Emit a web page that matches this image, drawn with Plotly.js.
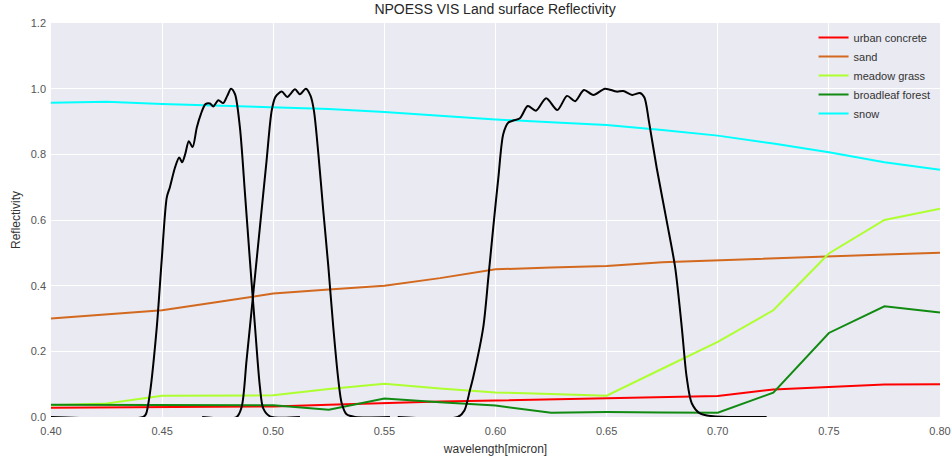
<!DOCTYPE html>
<html>
<head>
<meta charset="utf-8">
<script src="https://cdn.plot.ly/plotly-3.0.1.min.js"></script>
<style>
  html, body { margin: 0; padding: 0; background: #ffffff; }
  #chart { width: 952px; height: 459px; }
</style>
</head>
<body>
<div id="chart"></div>
<script>
// Wavelength grid (micron) for the surface reflectivity spectra
const wavelength = [0.400, 0.425, 0.450, 0.475, 0.500, 0.525, 0.550, 0.575, 0.600,
                    0.625, 0.650, 0.675, 0.700, 0.725, 0.750, 0.775, 0.800];

const urbanConcrete = [0.028, 0.029, 0.030, 0.031, 0.032, 0.037, 0.043, 0.047, 0.050,
                       0.054, 0.057, 0.061, 0.064, 0.084, 0.092, 0.099, 0.100];
const sand          = [0.300, 0.312, 0.325, 0.350, 0.376, 0.388, 0.400, 0.423, 0.450,
                       0.455, 0.460, 0.471, 0.477, 0.485, 0.490, 0.495, 0.500];
const meadowGrass   = [0.036, 0.041, 0.065, 0.065, 0.066, 0.085, 0.101, 0.087, 0.075,
                       0.070, 0.065, 0.147, 0.229, 0.325, 0.498, 0.600, 0.634];
const broadleaf     = [0.037, 0.037, 0.037, 0.037, 0.036, 0.022, 0.056, 0.045, 0.035,
                       0.013, 0.015, 0.014, 0.013, 0.074, 0.256, 0.337, 0.318];
const snow          = [0.957, 0.960, 0.953, 0.948, 0.943, 0.938, 0.929, 0.918, 0.906,
                       0.898, 0.889, 0.874, 0.857, 0.833, 0.806, 0.776, 0.753];

const surfaceNames  = ['urban concrete', 'sand', 'meadow grass', 'broadleaf forest', 'snow'];
const surfaceColors = ['#ff0000', '#d2691e', '#adff2f', '#108a10', '#00ffff'];

// Normalised spectral response of the three visible bands
const band1X = [0.4000, 0.4415, 0.4428, 0.4445, 0.4476, 0.4498, 0.4521, 0.4535, 0.4558, 0.4577,
                0.4590, 0.4604, 0.4620, 0.4637, 0.4656, 0.4674, 0.4695, 0.4715, 0.4730, 0.4753,
                0.4775, 0.4793, 0.4810, 0.4828, 0.4850, 0.4873, 0.4895, 0.4918, 0.4940, 0.4955,
                0.4985, 0.5120];
const band1Y = [0, 0, 0.010, 0.072, 0.274, 0.477, 0.669, 0.700, 0.760, 0.790,
                0.776, 0.801, 0.840, 0.822, 0.882, 0.922, 0.953, 0.955, 0.946, 0.965,
                0.956, 0.978, 1.000, 0.983, 0.882, 0.679, 0.477, 0.274, 0.092, 0.026,
                0.002, 0];

const band2X = [0.4680, 0.4835, 0.4858, 0.4880, 0.4910, 0.4940, 0.4970, 0.4993, 0.5010, 0.5038,
                0.5063, 0.5098, 0.5120, 0.5147, 0.5168, 0.5183, 0.5203, 0.5225, 0.5248, 0.5270,
                0.5293, 0.5308, 0.5330, 0.5368, 0.5525];
const band2Y = [0, 0, 0.031, 0.173, 0.376, 0.578, 0.781, 0.933, 0.975, 0.991,
                0.975, 0.998, 0.983, 1.000, 0.978, 0.933, 0.801, 0.629, 0.457, 0.274,
                0.112, 0.042, 0.008, 0, 0];

const band3X = [0.5560, 0.5830, 0.5860, 0.5885, 0.5900, 0.5945, 0.5968, 0.5990, 0.6013, 0.6035,
                0.6058, 0.6080, 0.6110, 0.6145, 0.6182, 0.6228, 0.6278, 0.6322, 0.6358, 0.6398,
                0.6440, 0.6493, 0.6545, 0.6575, 0.6615, 0.6650, 0.6670, 0.6690, 0.6725, 0.6770,
                0.6808, 0.6838, 0.6860, 0.6883, 0.6920, 0.6980, 0.7220];
const band3Y = [0, 0, 0.020, 0.082, 0.122, 0.274, 0.426, 0.578, 0.730, 0.862,
                0.897, 0.903, 0.910, 0.947, 0.933, 0.971, 0.935, 0.978, 0.962, 0.996,
                0.981, 1.000, 0.991, 0.993, 0.981, 0.987, 0.973, 0.902, 0.760, 0.598,
                0.457, 0.274, 0.122, 0.042, 0.011, 0.002, 0];

const xTicks = [0.40, 0.45, 0.50, 0.55, 0.60, 0.65, 0.70, 0.75, 0.80];
const yTicks = [0.0, 0.2, 0.4, 0.6, 0.8, 1.0, 1.2];

const surfaceSeries = [urbanConcrete, sand, meadowGrass, broadleaf, snow];
const traces = surfaceSeries.map((vals, i) => ({
  x: wavelength,
  y: vals,
  type: 'scatter',
  mode: 'lines',
  name: surfaceNames[i],
  line: { color: surfaceColors[i], width: 2 }
}));

[[band1X, band1Y], [band2X, band2Y], [band3X, band3Y]].forEach(([bx, by]) => {
  traces.push({
    x: bx,
    y: by,
    type: 'scatter',
    mode: 'lines',
    showlegend: false,
    hoverinfo: 'skip',
    line: { color: '#000000', width: 2, shape: 'spline', smoothing: 0.8 }
  });
});

const layout = {
  width: 952,
  height: 459,
  margin: { l: 51, r: 12, t: 23, b: 42 },
  paper_bgcolor: '#ffffff',
  plot_bgcolor: '#eaeaf2',
  font: { family: 'Liberation Sans, Arial, sans-serif', size: 11, color: '#555555' },
  title: {
    text: 'NPOESS VIS Land surface Reflectivity',
    font: { size: 14, color: '#262626' },
    x: 0.52, xanchor: 'center', y: 0.99, yanchor: 'top'
  },
  xaxis: {
    range: [0.40, 0.80],
    tickvals: xTicks,
    ticktext: xTicks.map(v => v.toFixed(2)),
    showgrid: true,
    gridcolor: '#ffffff',
    gridwidth: 1,
    zeroline: false,
    showline: false,
    ticks: '',
    ticklen: 0,
    ticklabelstandoff: 6,
    tickfont: { size: 11, color: '#555555' },
    title: { text: 'wavelength[micron]', font: { size: 12, color: '#333333' }, standoff: 8 }
  },
  yaxis: {
    range: [0, 1.2],
    tickvals: yTicks,
    ticktext: yTicks.map(v => v.toFixed(1)),
    showgrid: true,
    gridcolor: '#ffffff',
    gridwidth: 1,
    zeroline: false,
    showline: false,
    ticks: '',
    ticklabelstandoff: 4,
    tickfont: { size: 11, color: '#555555' },
    title: { text: 'Reflectivity', font: { size: 12, color: '#333333' }, standoff: 7 }
  },
  legend: {
    x: 0.995, xanchor: 'right',
    y: 1.0, yanchor: 'top',
    bgcolor: 'rgba(0,0,0,0)',
    font: { size: 11, color: '#333333' },
    itemwidth: 30,
    tracegroupgap: 0
  },
  showlegend: true
};

Plotly.newPlot('chart', traces, layout, { displayModeBar: false, staticPlot: true });
</script>
</body>
</html>
